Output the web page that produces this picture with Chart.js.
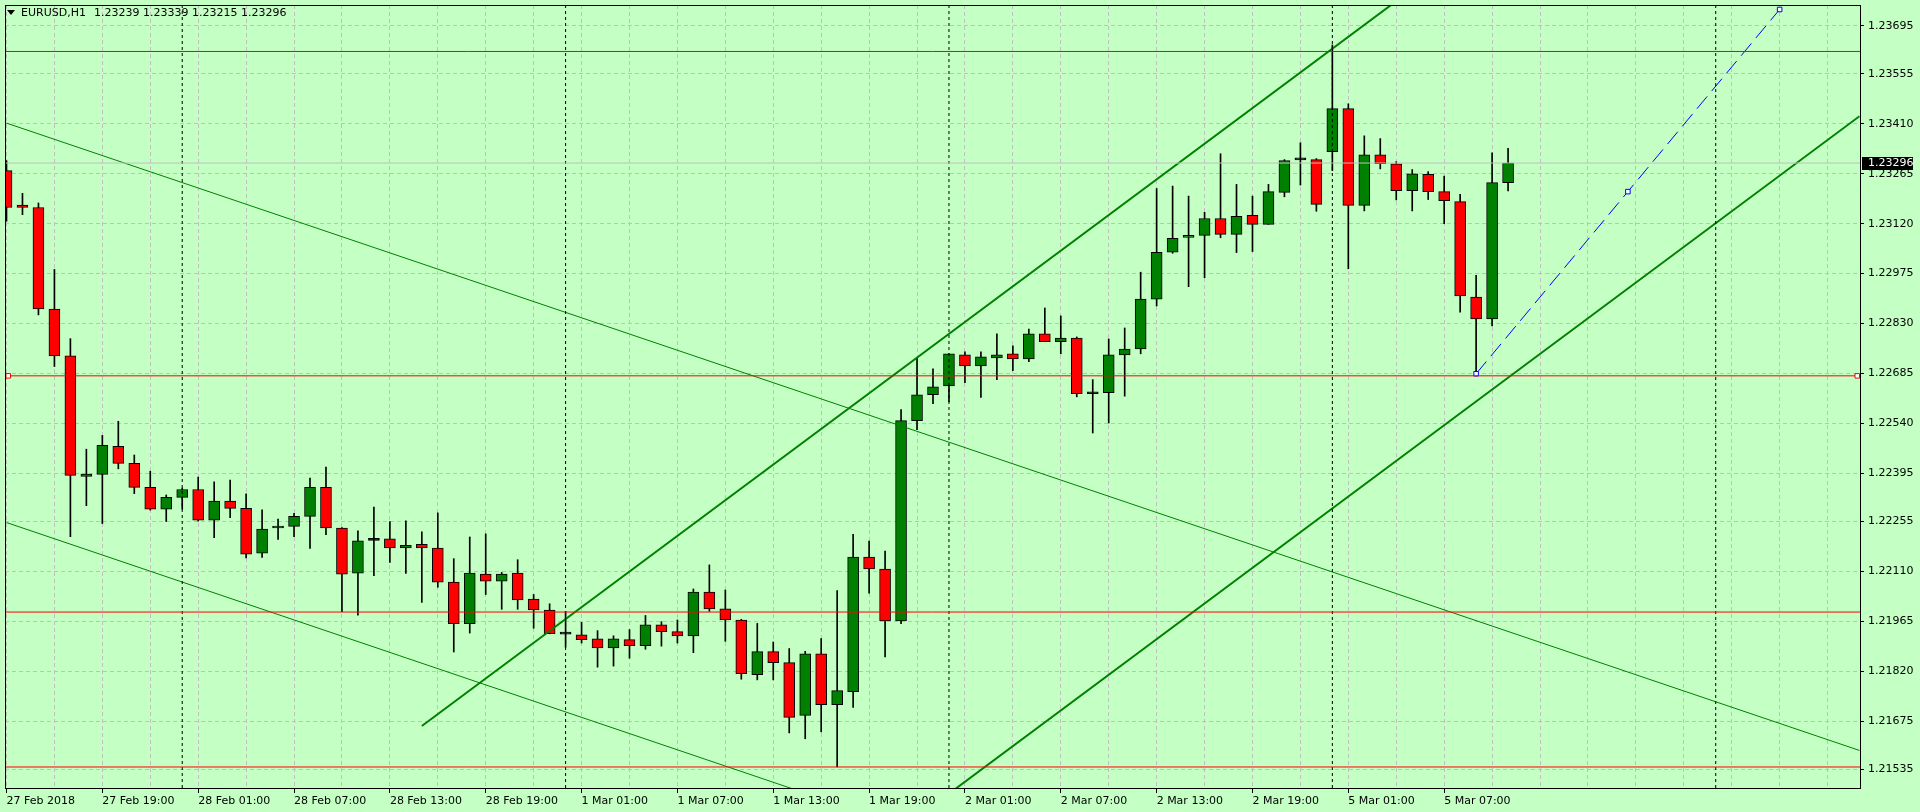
<!DOCTYPE html>
<html>
<head>
<meta charset="utf-8">
<title>EURUSD,H1</title>
<script src="https://cdn.jsdelivr.net/npm/chart.js@4.4.1/dist/chart.umd.min.js"></script>
<style>
  html, body { margin: 0; padding: 0; background: #c4ffc4; }
  canvas { display: block; }
</style>
</head>
<body>
<canvas id="grafico" width="1920" height="812"></canvas>
<script>
// candele H1, indice 0 = 27 Feb 13:00
const simbolo = "EURUSD,H1";

const opens = [
  1.23274, 1.23174, 1.23167, 1.22872, 1.22736, 1.22386, 1.22392, 1.22473, 1.22424, 1.22354,
  1.22291, 1.22325, 1.22348, 1.22259, 1.22314, 1.22293, 1.22163, 1.22236, 1.22241, 1.22270,
  1.22354, 1.22236, 1.22105, 1.22200, 1.22205, 1.22178, 1.22189, 1.22178, 1.22079, 1.21958,
  1.22102, 1.22082, 1.22105, 1.22030, 1.21998, 1.21928, 1.21926, 1.21914, 1.21888, 1.21912,
  1.21894, 1.21955, 1.21935, 1.21923, 1.22050, 1.22001, 1.21969, 1.21810, 1.21877, 1.21845,
  1.21692, 1.21871, 1.21723, 1.21761, 1.22152, 1.22117, 1.21966, 1.22548, 1.22623, 1.22649,
  1.22739, 1.22707, 1.22730, 1.22742, 1.22727, 1.22800, 1.22777, 1.22788, 1.22626, 1.22629,
  1.22739, 1.22756, 1.22901, 1.23037, 1.23080, 1.23086, 1.23135, 1.23089, 1.23144, 1.23118,
  1.23211, 1.23305, 1.23306, 1.23329, 1.23454, 1.23173, 1.23320, 1.23294, 1.23216, 1.23263,
  1.23213, 1.23184, 1.22907, 1.22843, 1.23239
];
const highs = [
  1.23303, 1.23208, 1.23180, 1.22987, 1.22786, 1.22465, 1.22505, 1.22546, 1.22448, 1.22401,
  1.22332, 1.22352, 1.22384, 1.22370, 1.22375, 1.22335, 1.22289, 1.22262, 1.22279, 1.22381,
  1.22413, 1.22237, 1.22228, 1.22297, 1.22255, 1.22257, 1.22225, 1.22280, 1.22147, 1.22210,
  1.22219, 1.22107, 1.22144, 1.22043, 1.22016, 1.21994, 1.21962, 1.21938, 1.21923, 1.21941,
  1.21982, 1.21964, 1.21969, 1.22059, 1.22129, 1.22056, 1.21971, 1.21959, 1.21905, 1.21886,
  1.21878, 1.21915, 1.22054, 1.22218, 1.22198, 1.22169, 1.22580, 1.22730, 1.22698, 1.22742,
  1.22748, 1.22748, 1.22800, 1.22765, 1.22814, 1.22875, 1.22852, 1.22791, 1.22667, 1.22785,
  1.22817, 1.22979, 1.23222, 1.23229, 1.23200, 1.23153, 1.23323, 1.23234, 1.23200, 1.23234,
  1.23306, 1.23355, 1.23309, 1.23639, 1.23468, 1.23375, 1.23367, 1.23300, 1.23277, 1.23271,
  1.23258, 1.23205, 1.22970, 1.23326, 1.23339
];
const lows = [
  1.23127, 1.23146, 1.22855, 1.22705, 1.22211, 1.22301, 1.22249, 1.22408, 1.22336, 1.22288,
  1.22255, 1.22291, 1.22256, 1.22208, 1.22266, 1.22149, 1.22151, 1.22203, 1.22211, 1.22177,
  1.22217, 1.21993, 1.21983, 1.22098, 1.22136, 1.22104, 1.22020, 1.22064, 1.21876, 1.21931,
  1.22043, 1.22000, 1.22000, 1.21945, 1.21929, 1.21890, 1.21902, 1.21832, 1.21835, 1.21858,
  1.21884, 1.21893, 1.21902, 1.21874, 1.21994, 1.21907, 1.21797, 1.21795, 1.21795, 1.21641,
  1.21624, 1.21644, 1.21542, 1.21715, 1.22047, 1.21862, 1.21958, 1.22522, 1.22597, 1.22603,
  1.22658, 1.22615, 1.22667, 1.22693, 1.22719, 1.22777, 1.22742, 1.22617, 1.22512, 1.22541,
  1.22619, 1.22742, 1.22881, 1.23034, 1.22937, 1.22963, 1.23079, 1.23036, 1.23039, 1.23118,
  1.23198, 1.23232, 1.23156, 1.23274, 1.22989, 1.23157, 1.23279, 1.23189, 1.23157, 1.23190,
  1.23120, 1.22863, 1.22684, 1.22823, 1.23215
];
const closes = [
  1.23167, 1.23167, 1.22872, 1.22736, 1.22389, 1.22393, 1.22476, 1.22424, 1.22354, 1.22291,
  1.22325, 1.22348, 1.22259, 1.22314, 1.22293, 1.22160, 1.22233, 1.22241, 1.22270, 1.22354,
  1.22236, 1.22102, 1.22199, 1.22200, 1.22178, 1.22186, 1.22178, 1.22079, 1.21958, 1.22105,
  1.22082, 1.22102, 1.22027, 1.21998, 1.21929, 1.21928, 1.21912, 1.21888, 1.21914, 1.21894,
  1.21955, 1.21935, 1.21923, 1.22050, 1.22001, 1.21969, 1.21813, 1.21877, 1.21845, 1.21686,
  1.21871, 1.21723, 1.21764, 1.22152, 1.22117, 1.21966, 1.22548, 1.22623, 1.22646, 1.22742,
  1.22707, 1.22733, 1.22739, 1.22727, 1.22800, 1.22777, 1.22788, 1.22626, 1.22626, 1.22739,
  1.22756, 1.22901, 1.23037, 1.23077, 1.23086, 1.23135, 1.23089, 1.23141, 1.23118, 1.23213,
  1.23303, 1.23305, 1.23176, 1.23454, 1.23173, 1.23320, 1.23294, 1.23216, 1.23265, 1.23213,
  1.23187, 1.22910, 1.22843, 1.23239, 1.23296
];

// etichette asse tempo, una ogni 6 barre
const xLabels = [
  "27 Feb 2018", "27 Feb 19:00", "28 Feb 01:00", "28 Feb 07:00", "28 Feb 13:00", "28 Feb 19:00",
  "1 Mar 01:00", "1 Mar 07:00", "1 Mar 13:00", "1 Mar 19:00", "2 Mar 01:00", "2 Mar 07:00",
  "2 Mar 13:00", "2 Mar 19:00", "5 Mar 01:00", "5 Mar 07:00"
];
const yTicks = [
  1.23695, 1.23555, 1.23410, 1.23265, 1.23120, 1.22975, 1.22830, 1.22685,
  1.22540, 1.22395, 1.22255, 1.22110, 1.21965, 1.21820, 1.21675, 1.21535
];

// oggetti disegnati sul grafico
const livelliRossi = [1.23620, 1.22678, 1.21992, 1.21542];
const separatoriGiorno = [11, 35, 59, 83, 107];
const trendSottile1 = [[0, 1.23412], [116, 1.21590]];
const trendSottile2 = [[0, 1.22252], [60, 1.21309]];
const canaleSup = [[26, 1.21661], [116, 1.24767]];
const canaleInf = [[56, 1.21361], [116, 1.23432]];
const lineaBlu = [[92, 1.22684], [101.5, 1.23213], [111, 1.23742]];
const marcatoriLivello = [0.11, 115.86];

const X_MIN = -0.09375, X_MAX = 116.03125;
const Y_MIN = 1.21481, Y_MAX = 1.23755;
const FONT = "DejaVu Sans";

const n = closes.length - 1;
const bid = closes[n];
const indici = closes.map((_, i) => i);
const passiGriglia = [];
for (let v = 0; v <= 114; v += 3) passiGriglia.push(v);

function etichettaX(v) {
  if (v % 6 !== 0) return "";
  return xLabels[v / 6] || "";
}

function coloreCandela(i) {
  if (closes[i] > opens[i]) return "#008000";
  if (closes[i] < opens[i]) return "#ff0000";
  return "#000000";
}

function linea(punti, colore, spessore, tratteggio) {
  return {
    type: "line",
    data: punti.map(p => ({ x: p[0], y: p[1] })),
    borderColor: colore,
    borderWidth: spessore,
    borderDash: tratteggio || [],
    pointRadius: 0,
    tension: 0,
    fill: false,
    order: 0
  };
}

const datasets = [];

// livelli orizzontali
livelliRossi.forEach((liv, k) => {
  if (k === 1) {
    const ds = linea([[X_MIN, liv], [marcatoriLivello[0], liv], [marcatoriLivello[1], liv], [X_MAX, liv]], "#ff0000", 1);
    ds.pointRadius = [0, 3.2, 3.2, 0];
    ds.pointStyle = "rect";
    ds.pointBackgroundColor = "#ffffff";
    ds.pointBorderColor = "#ff0000";
    ds.pointBorderWidth = 1;
    datasets.push(ds);
  } else {
    datasets.push(linea([[X_MIN, liv], [X_MAX, liv]], "#ff0000", 1));
  }
});
datasets.push(linea([[X_MIN, bid], [X_MAX, bid]], "#c0c0c0", 1));

// separatori dei giorni
separatoriGiorno.forEach(s => {
  datasets.push(linea([[s, Y_MIN], [s, Y_MAX]], "#000000", 1, [3, 3]));
});

// trend line e canale
datasets.push(linea(trendSottile1, "#008000", 1));
datasets.push(linea(trendSottile2, "#008000", 1));
datasets.push(linea(canaleSup, "#008000", 2));
datasets.push(linea(canaleInf, "#008000", 2));

const blu = linea(lineaBlu, "#0000ff", 1, [16, 7]);
blu.pointRadius = 3.2;
blu.pointStyle = "rect";
blu.pointBackgroundColor = "#ffffff";
blu.pointBorderColor = "#0000ff";
blu.pointBorderWidth = 1;
datasets.push(blu);

// candele: corpo sopra l'ombra
datasets.push({
  type: "bar",
  data: indici.map(i => ({ x: i, y: [opens[i], closes[i]] })),
  backgroundColor: indici.map(coloreCandela),
  borderColor: "#000000",
  borderWidth: 1,
  borderSkipped: false,
  barThickness: 11,
  minBarLength: 2,
  grouped: false,
  order: 1
});
datasets.push({
  type: "bar",
  data: indici.map(i => ({ x: i, y: [lows[i], highs[i]] })),
  backgroundColor: "#000000",
  borderWidth: 0,
  barThickness: 1,
  grouped: false,
  order: 2
});

const sfondoECornice = {
  id: "sfondoECornice",
  beforeDraw(chart) {
    const ctx = chart.ctx;
    ctx.save();
    ctx.fillStyle = "#c4ffc4";
    ctx.fillRect(0, 0, chart.width, chart.height);
    ctx.restore();
  },
  afterDraw(chart) {
    const { ctx, chartArea: a } = chart;
    const y = chart.scales.y;
    ctx.save();
    ctx.strokeStyle = "#000000";
    ctx.lineWidth = 1;
    ctx.strokeRect(a.left + 0.5, a.top + 0.5, a.right - a.left, a.bottom - a.top);

    // prezzo bid sull'asse
    const yb = Math.round(y.getPixelForValue(bid));
    ctx.fillStyle = "#000000";
    ctx.fillRect(a.right + 2, yb - 6, 51, 13);
    ctx.fillStyle = "#ffffff";
    ctx.font = "11px '" + FONT + "'";
    ctx.textBaseline = "middle";
    ctx.fillText(bid.toFixed(5), a.right + 8, yb + 0.5);

    // intestazione
    ctx.fillStyle = "#000000";
    ctx.beginPath();
    ctx.moveTo(7, 10);
    ctx.lineTo(15, 10);
    ctx.lineTo(11, 15);
    ctx.closePath();
    ctx.fill();
    ctx.fillText(simbolo, 21, 13);
    const ohlc = [opens[n], highs[n], lows[n], closes[n]].map(v => v.toFixed(5)).join(" ");
    ctx.fillText(ohlc, 94, 13);
    ctx.restore();
  }
};

new Chart(document.getElementById("grafico"), {
  type: "bar",
  data: { datasets },
  plugins: [sfondoECornice],
  options: {
    responsive: false,
    animation: false,
    devicePixelRatio: 1,
    layout: { padding: { left: 2, top: 2, right: 0, bottom: 0 } },
    plugins: { legend: { display: false }, tooltip: { enabled: false } },
    scales: {
      x: {
        type: "linear",
        min: X_MIN,
        max: X_MAX,
        offset: false,
        afterBuildTicks: s => { s.ticks = passiGriglia.map(v => ({ value: v })); },
        afterFit: s => { s.height = 24; s.paddingLeft = 0; s.paddingRight = 0; },
        grid: {
          color: "#c0c0c0",
          lineWidth: 1,
          offset: false,
          tickLength: 5,
          tickColor: c => (c.tick && etichettaX(c.tick.value)) ? "#000000" : "rgba(0,0,0,0)"
        },
        border: { display: false, dash: [4, 3] },
        ticks: {
          autoSkip: false,
          maxRotation: 0,
          minRotation: 0,
          align: "start",
          padding: 2,
          color: "#000000",
          font: { family: FONT, size: 11 },
          callback: v => etichettaX(v)
        }
      },
      y: {
        type: "linear",
        position: "right",
        min: Y_MIN,
        max: Y_MAX,
        beginAtZero: false,
        afterBuildTicks: s => { s.ticks = yTicks.map(v => ({ value: v })); },
        afterFit: s => { s.width = 60; s.paddingTop = 0; s.paddingBottom = 0; },
        grid: { color: "#c0c0c0", lineWidth: 1, tickLength: 4, tickColor: "#000000" },
        border: { display: false, dash: [4, 3] },
        ticks: {
          padding: 4,
          color: "#000000",
          font: { family: FONT, size: 11 },
          callback: v => v.toFixed(5)
        }
      }
    }
  }
});
</script>
</body>
</html>
